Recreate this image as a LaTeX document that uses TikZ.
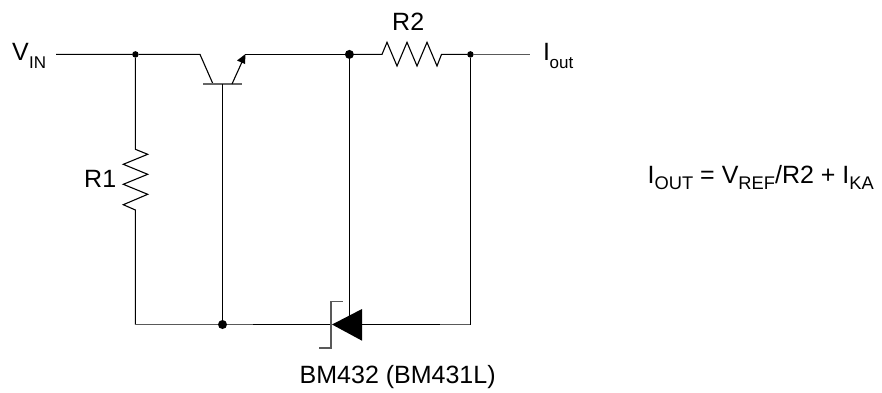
\documentclass[tikz,border=0pt]{standalone}
\usepackage{fontspec}
\setmainfont{Liberation Sans}
\tikzset{
  x=1pt,y=-1pt,
  wire/.style={draw=black,line width=1.1pt,line join=miter},
  thinw/.style={draw=black!65,line width=1.1pt},
  heavy/.style={draw=black,line width=1.6pt},
  dotbig/.style={circle,fill=black,inner sep=0pt,minimum size=9pt},
  dotsmall/.style={circle,fill=black,inner sep=0pt,minimum size=6.5pt},
  lbl/.style={anchor=base west,inner sep=0pt,font=\fontsize{25}{29}\selectfont},
  sub/.style={anchor=base west,inner sep=0pt,font=\fontsize{17}{20}\selectfont},
}
\newcommand{\sbs}[1]{\raisebox{-6.5pt}{\fontsize{18.3}{21}\selectfont #1}}
\begin{document}
\begin{tikzpicture}
\useasboundingbox (0,0) rectangle (882,392);
\fill[white] (0,0) rectangle (882,392);
% junctions and free ends
\coordinate (vin) at (56,54.4);
\node[dotsmall] (j1) at (135.4,54.4) {};
\node[dotbig] (j2) at (349.4,54.4) {};
\node[dotsmall] (j3) at (470.4,54.4) {};
\coordinate (iout) at (530,54.4);
\node[dotbig] (j4) at (222.5,324.5) {};
\coordinate (bl) at (135.4,324.5);
\coordinate (br) at (470.4,324.5);
% transistor points
\coordinate (c0) at (200,54.4);
\coordinate (c1) at (213,84);
\coordinate (e1) at (232,84);
\coordinate (e0) at (245,54.4);
\coordinate (bas) at (222.5,84);
% wires
\draw[wire] (vin) -- (j1) -- (c0) -- (c1);
\draw[wire] (e0) -- (j2);
\draw[draw=black!60,line width=1.5pt] (203,84) -- (242,84);
\draw[wire] (bas) -- (j4);
% emitter arrow
\draw[wire] (e1) -- (242,62);
\fill[black] (245.5,54) -- (245,64) -- (237,60.5) -- cycle;
% R2
\draw[wire] (j2) -- (382,54.4) -- (387,42.3) -- (397,66) -- (407,42.3) -- (417,66) -- (427,42.3) -- (437,66) -- (441.5,54.4) -- (j3);
\draw[thinw] (j3) -- (iout);
% R1
\draw[wire] (j1) -- (135.4,149.3) -- (147.7,154.3) -- (123.3,164.3) -- (147.7,174.3) -- (123.3,184.3) -- (147.7,194.3) -- (123.3,204.7) -- (135.4,210) -- (bl);
% bottom
\draw[thinw] (bl) -- (j4) -- (253,324.5);
\draw[heavy] (253,324.5) -- (332,324.5);
\draw[heavy] (362,324.5) -- (440,324.5);
\draw[thinw] (440,324.5) -- (br);
\draw[wire] (br) -- (j3);
\draw[wire] (j2) -- (349.4,316);
% regulator symbol
\fill[black] (332,324.5) -- (362,309) -- (362,340.7) -- cycle;
\draw[thinw] (342.7,301.7) -- (331,301.7) -- (331,348) -- (319.3,348);
% labels
\node[lbl] (tv) at (12,60.5) {V};
\node[sub] (tvs) at (29,68) {IN};
\node[lbl] (tr2) at (392,30.5) {R2};
\node[lbl] (ti) at (543,60.5) {I};
\node[sub] (tis) at (549.5,68) {out};
\node[lbl] (tr1) at (84,187) {R1};
\node[lbl] (tb) at (299.5,383) {BM432 (BM431L)};
\node[lbl] (teq) at (647.5,183) {I\sbs{OUT} = V\sbs{REF}/R2 + I\sbs{KA}};
\end{tikzpicture}
\end{document}
